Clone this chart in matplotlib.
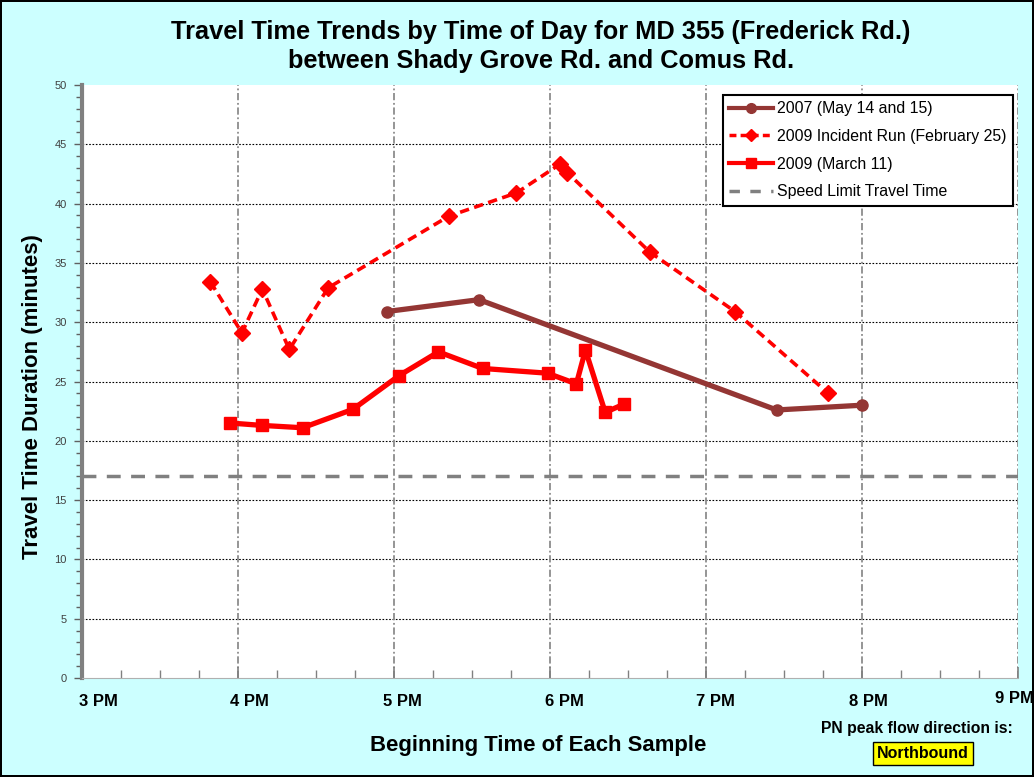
import matplotlib
matplotlib.use("Agg")
import matplotlib.pyplot as plt
from matplotlib.ticker import MultipleLocator, FixedLocator
from matplotlib.lines import Line2D
from matplotlib.transforms import ScaledTranslation

plt.rcParams['font.family'] = ['Liberation Sans', 'DejaVu Sans']

# ---- data (time in decimal hours, 24h clock; values in minutes) ----
t_2007 = [16.954, 17.545, 19.453, 19.998]
v_2007 = [30.9, 31.9, 22.6, 23.0]

t_inc = [15.823, 16.025, 16.156, 16.329, 16.578, 17.353, 17.785, 18.061, 18.112, 18.641, 19.186, 19.784]
v_inc = [33.4, 29.1, 32.8, 27.7, 32.9, 38.95, 40.9, 43.3, 42.6, 35.9, 30.9, 24.0]

t_mar = [15.949, 16.151, 16.414, 16.736, 17.033, 17.285, 17.568, 17.984, 18.169, 18.227, 18.354, 18.476]
v_mar = [21.5, 21.3, 21.1, 22.65, 25.5, 27.5, 26.1, 25.7, 24.8, 27.65, 22.4, 23.1]

speed_limit = 17.0

x_ticks = [15, 16, 17, 18, 19, 20, 21]
x_labels = ['3 PM', '4 PM', '5 PM', '6 PM', '7 PM', '8 PM', '9 PM']
y_ticks = [0, 5, 10, 15, 20, 25, 30, 35, 40, 45, 50]

series_labels = ['2007 (May 14 and 15)', '2009 Incident Run (February 25)',
                 '2009 (March 11)', 'Speed Limit Travel Time']

title_1 = 'Travel Time Trends by Time of Day for MD 355 (Frederick Rd.)'
title_2 = 'between Shady Grove Rd. and Comus Rd.'

# ---- figure ----
W, H = 1034, 777
fig = plt.figure(figsize=(W / 100, H / 100), dpi=100)
fig.patch.set_facecolor('#CCFFFF')
fig.patch.set_edgecolor('black')
fig.patch.set_linewidth(1.5)

ax = fig.add_axes([82 / W, 1 - 678 / H, 936 / W, 593 / H])
ax.set_facecolor('white')
ax.set_xlim(15, 21)
ax.set_ylim(0, 50)

# grids
for y in y_ticks[1:-1]:
    ax.axhline(y, color='black', lw=0.8, ls=(0, (1.5, 1.5)), zorder=1)
for x in x_ticks[1:]:
    ax.axvline(x, color='#8C8C8C', lw=1.3, ls=(0, (4, 1.5, 1, 1.5)), zorder=1)

ax.axhline(speed_limit, color='#808080', lw=2.5, ls=(0, (4, 3)), zorder=2)

brown = '#943634'
red = '#FF0000'
ax.plot(t_2007, v_2007, color=brown, lw=3.8, marker='o', ms=8, zorder=4)
ax.plot(t_inc, v_inc, color=red, lw=2.6, ls=(0, (2.6, 1.5)), marker='D', ms=8, zorder=4)
ax.plot(t_mar, v_mar, color=red, lw=3.8, marker='s', ms=9, zorder=5)

# spines
for s in ['top', 'right']:
    ax.spines[s].set_visible(False)
ax.spines['left'].set_color('#808080')
ax.spines['left'].set_linewidth(3)
ax.spines['bottom'].set_color('#B0B0B0')
ax.spines['bottom'].set_linewidth(0.8)

ax.yaxis.set_major_locator(FixedLocator(y_ticks))
ax.yaxis.set_minor_locator(MultipleLocator(1))
ax.tick_params(axis='y', which='major', direction='out', length=6, width=1,
               color='#606060', labelsize=8, labelcolor='#404040', pad=5)
ax.tick_params(axis='y', which='minor', direction='out', length=4, width=1, color='#606060')

ax.xaxis.set_major_locator(FixedLocator(x_ticks))
ax.xaxis.set_minor_locator(MultipleLocator(0.25))
ax.set_xticklabels(x_labels, fontweight='bold', fontsize=12)
ax.tick_params(axis='x', which='major', direction='in', length=8, width=1.2,
               color='#808080', pad=11.5)
ax.tick_params(axis='x', which='minor', direction='in', length=6, width=1, color='#808080')
label_shift = [(16, 0), (11, 0), (8, 0), (14, 0), (9, 0), (6, 0), (-4, 3)]
for lab, (dx, dy) in zip(ax.get_xticklabels(), label_shift):
    lab.set_transform(lab.get_transform() + ScaledTranslation(dx / 100, dy / 100, fig.dpi_scale_trans))

fig.text(33 / W, 1 - 397 / H, 'Travel Time Duration (minutes)', rotation=90,
         ha='center', va='center', fontsize=16, fontweight='bold')
fig.text(538 / W, 1 - 745 / H, 'Beginning Time of Each Sample',
         ha='center', va='center', fontsize=15.9, fontweight='bold')
fig.text(541 / W, 1 - 32 / H, title_1, ha='center', va='center', fontsize=18.3, fontweight='bold')
fig.text(541 / W, 1 - 61 / H, title_2, ha='center', va='center', fontsize=18.3, fontweight='bold')

handles = [
    Line2D([], [], color=brown, lw=3, marker='o', ms=7),
    Line2D([], [], color=red, lw=2.5, ls=(0, (2, 1.2)), marker='D', ms=6),
    Line2D([], [], color=red, lw=3, marker='s', ms=7),
    Line2D([], [], color='#808080', lw=2.5, ls=(0, (3, 3))),
]
leg = ax.legend(handles, series_labels, loc='upper right',
                bbox_to_anchor=((1013 - 82) / 936, (678 - 95) / 593),
                fontsize=11.4, frameon=True, fancybox=False, edgecolor='black',
                framealpha=1, handlelength=2.8, labelspacing=0.8, borderpad=0.4,
                handletextpad=0.25, borderaxespad=0)
leg.get_frame().set_linewidth(1.5)

fig.text(917 / W, 1 - 728 / H, 'PN peak flow direction is:', ha='center', va='center',
         fontsize=11.3, fontweight='bold')
fig.text(923 / W, 1 - 753.5 / H, 'Northbound', ha='center', va='center', fontsize=11.5,
         fontweight='bold',
         bbox=dict(boxstyle='square,pad=0.25', facecolor='#FFFF00', edgecolor='black', lw=1))

fig.savefig('out.png', dpi=100, facecolor=fig.get_facecolor(), edgecolor=fig.get_edgecolor())
